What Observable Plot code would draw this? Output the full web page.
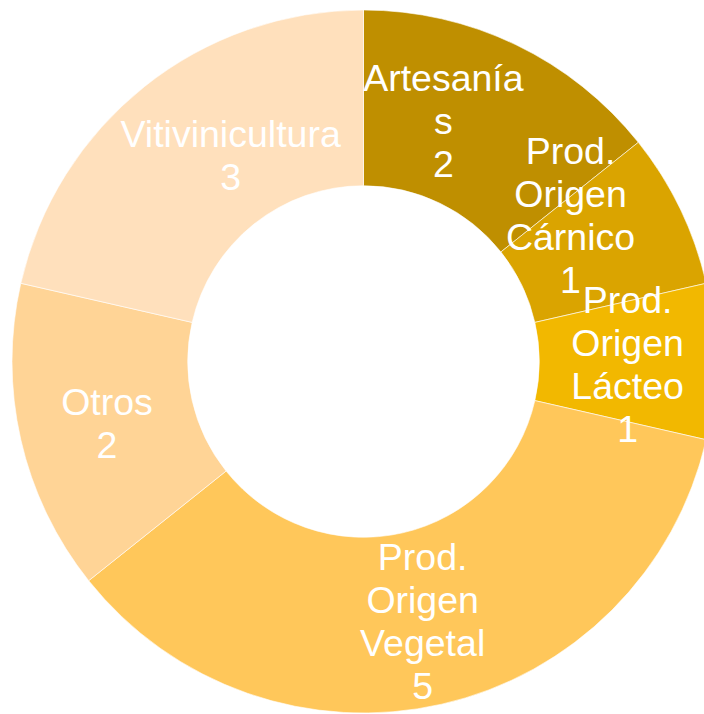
<!DOCTYPE html>
<html>
<head>
<meta charset="utf-8">
<script src="https://cdn.jsdelivr.net/npm/d3@7"></script>
<script src="https://cdn.jsdelivr.net/npm/@observablehq/plot@0.6"></script>
<style>
  html, body { margin: 0; padding: 0; background: #ffffff; overflow: hidden; }
  #chart svg { display: block; }
</style>
</head>
<body>
<div id="chart"></div>
<script>
// ---- data ----
const categories = ["Artesanías", "Prod. Origen Cárnico", "Prod. Origen Lácteo", "Prod. Origen Vegetal", "Otros", "Vitivinicultura"];
const values = [2, 1, 1, 5, 2, 3];
const labelLines = [
  ["Artesanía", "s"],
  ["Prod.", "Origen", "Cárnico"],
  ["Prod.", "Origen", "Lácteo"],
  ["Prod.", "Origen", "Vegetal"],
  ["Otros"],
  ["Vitivinicultura"]
];

// ---- style / layout ----
const colors = ["#BF8F00", "#DAA400", "#F2B800", "#FFC75A", "#FFD496", "#FFE0BC"];
const W = 704, H = 714;
const cx = 363.5, cy = 361.5, R = 351.5;   // donut centre and outer radius (px)
const innerRatio = 0.5;
const labelRatio = 0.75;
const fontSize = 37.5, lineHeightPx = 43;
const nudges = [[-35, -6.5], [-31, -35], [0, 0], [0, 0], [0, 0], [31, -3.5]];

// ---- build table ----
const pie = d3.pie().sort(null).value(d => d.value).startAngle(0).endAngle(2 * Math.PI);
const table = categories.map((c, i) => ({category: c, value: values[i], color: colors[i], lines: labelLines[i]}));
const arcs = pie(table);
const labels = arcs.map((a, i) => {
  const mid = (a.startAngle + a.endAngle) / 2;
  return {
    x: labelRatio * Math.sin(mid),
    y: labelRatio * Math.cos(mid),
    text: [...a.data.lines, String(a.data.value)].join("\n"),
    dx: nudges[i][0],
    dy: nudges[i][1]
  };
});

const donut = (index, scales) => {
  const ox = scales.x(0), oy = scales.y(0);
  const rPx = scales.x(1) - scales.x(0);
  const arc = d3.arc().innerRadius(rPx * innerRatio).outerRadius(rPx);
  const g = d3.create("svg:g").attr("transform", `translate(${ox},${oy})`);
  g.selectAll("path")
    .data(arcs)
    .join("path")
    .attr("d", arc)
    .attr("fill", d => d.data.color)
    .attr("stroke", "#ffffff")
    .attr("stroke-width", 0.6)
    .attr("stroke-linejoin", "round");
  return g.node();
};

const textMarks = labels.map(l => Plot.text([l], {
  x: "x", y: "y", text: "text",
  dx: l.dx, dy: l.dy + 2,
  fill: "#ffffff",
  fontSize: fontSize,
  lineHeight: lineHeightPx / fontSize,
  textAnchor: "middle",
  lineAnchor: "middle"
}));

const chart = Plot.plot({
  width: W,
  height: H,
  margin: 0,
  style: {fontFamily: "'Liberation Sans', Arial, sans-serif", background: "#ffffff", overflow: "hidden"},
  x: {domain: [-cx / R, (W - cx) / R], range: [0, W], axis: null},
  y: {domain: [-(H - cy) / R, cy / R], range: [H, 0], axis: null},
  marks: [donut, ...textMarks]
});
document.getElementById("chart").appendChild(chart);
</script>
</body>
</html>
